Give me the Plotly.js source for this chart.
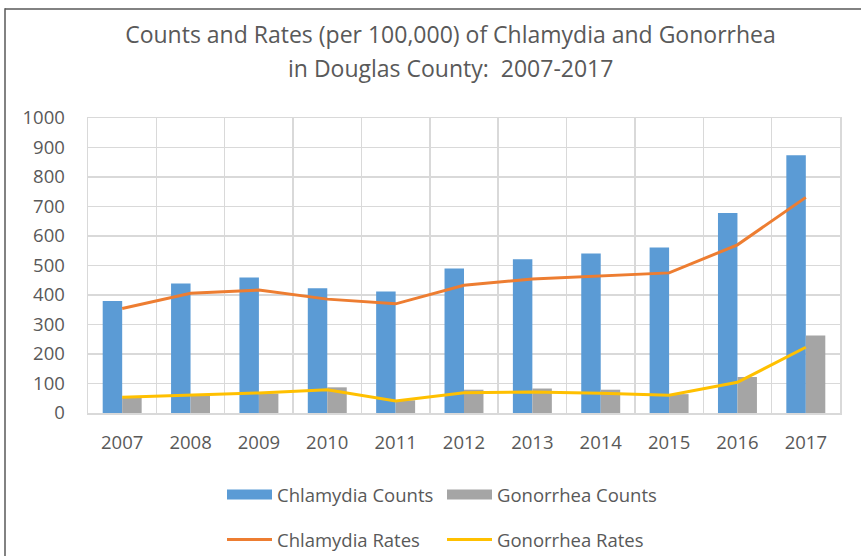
<!DOCTYPE html>
<html>
<head>
<meta charset="utf-8">
<script src="https://cdn.plot.ly/plotly-3.0.1.min.js"></script>
<style>html,body{margin:0;padding:0;background:#fff;}#chart{width:861px;height:556px;}</style>
</head>
<body>
<div id="chart"></div>
<script>
var years = ["2007","2008","2009","2010","2011","2012","2013","2014","2015","2016","2017"];
var chlamydiaCounts = [380, 439, 459, 423, 412, 490, 521, 541, 561, 678, 874];
var gonorrheaCounts = [52, 58, 66, 87, 43, 79, 83, 79, 64, 122, 263];
var chlamydiaRates = [354, 406, 417, 386, 370, 433, 454, 464, 475, 570, 731];
var gonorrheaRates = [53, 60, 68, 79, 41, 69, 71, 67, 60, 104, 223];

var txt = '#595959';
var fontFam = '"Open Sans", "Noto Sans", sans-serif';
var blue = '#5B9BD5', gray = '#A5A5A5', orange = '#ED7D31', yellow = '#FFC000';

var traces = [
  {type:'bar', x:years, y:chlamydiaCounts, name:'Chlamydia Counts', marker:{color:blue}, showlegend:false},
  {type:'bar', x:years, y:gonorrheaCounts, name:'Gonorrhea Counts', marker:{color:gray}, showlegend:false},
  {type:'scatter', mode:'lines', x:years, y:chlamydiaRates, name:'Chlamydia Rates', line:{color:orange, width:3}, legend:'legend2'},
  {type:'scatter', mode:'lines', x:years, y:gonorrheaRates, name:'Gonorrhea Rates', line:{color:yellow, width:3}, legend:'legend2'},
  // legend swatches for the bar series (wide Excel-style rectangles)
  {type:'scatter', mode:'lines', x:[years[0]], y:[null], name:'Chlamydia Counts', line:{color:blue, width:10}, legend:'legend', hoverinfo:'skip'},
  {type:'scatter', mode:'lines', x:[years[0]], y:[null], name:'Gonorrhea Counts', line:{color:gray, width:10}, legend:'legend', hoverinfo:'skip'}
];

var layout = {
  width:861, height:556,
  margin:{l:88, r:21, t:118, b:143, autoexpand:false},
  paper_bgcolor:'#fff', plot_bgcolor:'#fff',
  font:{family:fontFam, color:txt, size:18},
  title:{
    text:'Counts and Rates (per 100,000) of Chlamydia and Gonorrhea',
    font:{family:fontFam, size:23, color:txt},
    xref:'paper', x:0.482, xanchor:'center',
    yref:'container', y:1-35/556, yanchor:'middle'
  },
  annotations:[{
    text:'in Douglas County:\u00a0 2007-2017',
    xref:'paper', yref:'paper', x:0.482, y:(413-68)/295, xanchor:'center', yanchor:'middle',
    showarrow:false, font:{family:fontFam, size:23, color:txt}
  }],
  barmode:'group', bargap:0.43, bargroupgap:0,
  xaxis:{
    type:'category', tickson:'boundaries', ticks:'', showgrid:true, gridcolor:'#d9d9d9', gridwidth:1.5,
    showline:true, linecolor:'#d9d9d9', linewidth:1.5, mirror:true,
    tickfont:{size:18.5, color:txt}, ticklabelstandoff:12
  },
  yaxis:{
    range:[0,1000], dtick:100, tick0:0, showgrid:true, gridcolor:'#d9d9d9', gridwidth:1.5,
    showline:true, linecolor:'#d9d9d9', linewidth:1.5, mirror:true, zeroline:false,
    tickfont:{size:18.5, color:txt}, ticklabelstandoff:18
  },
  legend:{
    orientation:'h', x:(222-88)/752, xanchor:'left', y:(413-495)/295, yanchor:'middle',
    font:{size:18.5, color:txt}, itemwidth:45, entrywidth:160, entrywidthmode:'pixels', traceorder:'normal'
  },
  legend2:{
    orientation:'h', x:(222-88)/752, xanchor:'left', y:(413-540)/295, yanchor:'middle',
    font:{size:18.5, color:txt}, itemwidth:45, entrywidth:160, entrywidthmode:'pixels', traceorder:'normal'
  },
  shapes:[
    {type:'line', xref:'paper', yref:'paper', x0:(5-88)/752, x1:(5-88)/752, y0:1.372, y1:-0.6, line:{color:'#595959', width:1.5}},
    {type:'line', xref:'paper', yref:'paper', x0:(5-88)/752, x1:1.05, y0:(413-9)/295, y1:(413-9)/295, line:{color:'#595959', width:1.5}}
  ]
};

Plotly.newPlot('chart', traces, layout, {displayModeBar:false, staticPlot:true});
</script>
</body>
</html>
